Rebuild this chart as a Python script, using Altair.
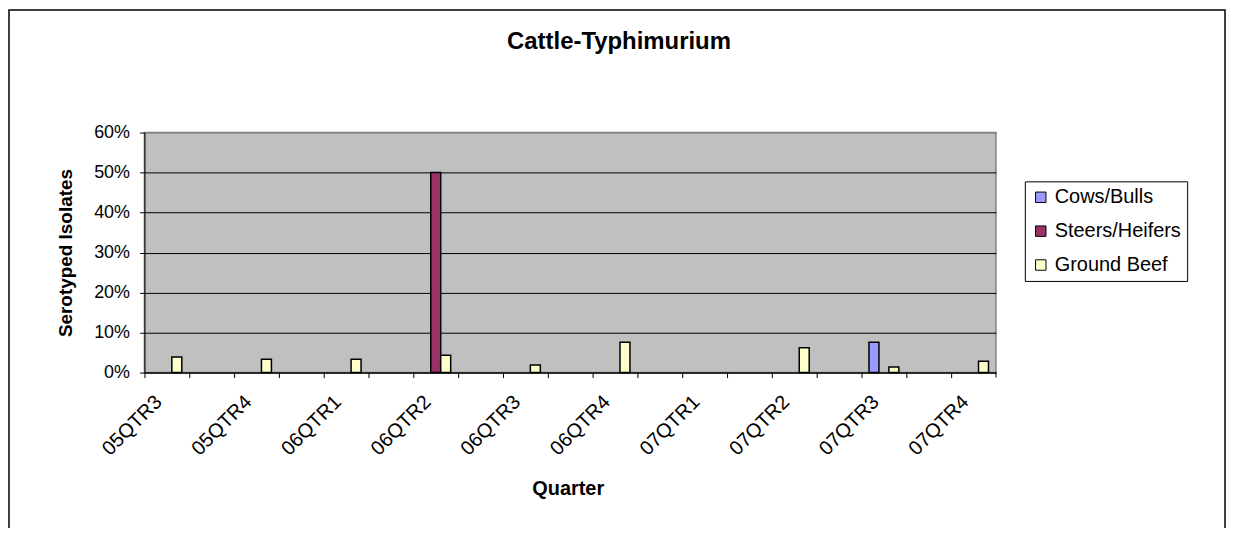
import altair as alt
import pandas as pd

# ---- data (as fractions) ----
quarters = ["05QTR3", "05QTR4", "06QTR1", "06QTR2", "06QTR3",
            "06QTR4", "07QTR1", "07QTR2", "07QTR3", "07QTR4"]
series = ["Cows/Bulls", "Steers/Heifers", "Ground Beef"]
cows_bulls = [0, 0, 0, 0, 0, 0, 0, 0, 0.076, 0]
steers_heifers = [0, 0, 0, 0.50, 0, 0, 0, 0, 0, 0]
ground_beef = [0.039, 0.033, 0.033, 0.043, 0.019, 0.076, 0, 0.062, 0.014, 0.028]
colors = ["#9999FF", "#993366", "#FFFFCC"]
y_ticks = [0, 0.1, 0.2, 0.3, 0.4, 0.5, 0.6]

# category axis: each quarter followed by an empty (unlabelled) slot
x_domain = []
for i, q in enumerate(quarters):
    x_domain.append(q)
    if i < len(quarters) - 1:
        x_domain.append("~" + str(i))

rows = []
for name, vals in zip(series, [cows_bulls, steers_heifers, ground_beef]):
    for q, v in zip(quarters, vals):
        if v > 0:
            rows.append({"quarter": q, "series": name, "value": v})
df = pd.DataFrame(rows)

W, H = 855, 241
FONT = "Liberation Sans"

bars = alt.Chart(df).mark_bar(stroke="black", strokeWidth=1.5).encode(
    x=alt.X(
        "quarter:N",
        sort=x_domain,
        scale=alt.Scale(domain=x_domain, paddingInner=0, paddingOuter=0),
        axis=alt.Axis(
            title="Quarter",
            labelAngle=315,
            labelAlign="right",
            labelBaseline="middle",
            labelPadding=21,
            labelOffset=-8,
            bandPosition=0,
            labelOverlap=False,
            labelExpr="indexof(datum.value, '~') == 0 ? '' : datum.value",
            labelFontSize=20,
            labelColor="black",
            tickSize=5,
            tickColor="black",
            domainColor="black",
            titleFontSize=20,
            titleFontWeight="bold",
            titleColor="black",
            titleX=425,
            titleY=122,
            titleBaseline="alphabetic",
            titleAlign="center",
        ),
    ),
    xOffset=alt.XOffset(
        "series:N",
        scale=alt.Scale(domain=series, paddingInner=0, paddingOuter=0.75),
    ),
    y=alt.Y(
        "value:Q",
        scale=alt.Scale(domain=[0, 0.6], nice=False),
        axis=alt.Axis(
            title="Serotyped Isolates",
            format="%",
            values=y_ticks,
            labelFontSize=18,
            labelColor="black",
            labelPadding=10,
            tickSize=5,
            tickColor="black",
            domainColor="black",
            grid=True,
            gridColor={"condition": {"test": "datum.value >= 0.6", "value": "#808080"},
                       "value": "black"},
            titleFontSize=19,
            titleFontWeight="bold",
            titleColor="black",
            titleAngle=270,
            titleX=-73,
            titleY=120.5,
            titleBaseline="alphabetic",
            titleAlign="center",
        ),
    ),
    color=alt.Color(
        "series:N",
        scale=alt.Scale(domain=series, range=colors),
        legend=alt.Legend(
            title=None,
            orient="none",
            legendX=884,
            legendY=49,
            strokeColor="black",
            fillColor="white",
            padding=6,
            symbolType="square",
            symbolSize=110,
            symbolStrokeColor="black",
            symbolStrokeWidth=1,
            labelFontSize=20,
            labelColor="black",
            labelOffset=4,
            rowPadding=14,
        ),
    ),
)

frame = alt.Chart(alt.Data(values=[{}])).mark_rect(
    fillOpacity=0, stroke="black", strokeWidth=1.5
).encode(
    x=alt.value(-136), x2=alt.value(1085),
    y=alt.value(-123), y2=alt.value(430),
)

end_tick = alt.Chart(alt.Data(values=[{}])).mark_rule(color="black").encode(
    x=alt.value(W), y=alt.value(H), y2=alt.value(H + 5)
)

chart = alt.layer(bars, end_tick, frame).properties(
    width=W,
    height=H,
    title=alt.TitleParams(
        "Cattle-Typhimurium",
        fontSize=24,
        fontWeight="bold",
        color="black",
        anchor="middle",
        frame="group",
        dx=49,
        offset=-69,
        baseline="bottom",
    ),
    autosize=alt.AutoSizeParams(type="none"),
    padding={"left": 137, "top": 124, "right": 232, "bottom": 155},
).configure(
    font=FONT,
    background="white",
).configure_view(
    fill="#C0C0C0",
    stroke="#808080",
    strokeWidth=1.5,
)

chart.save("out.html", embed_options={"renderer": "svg", "actions": False})
